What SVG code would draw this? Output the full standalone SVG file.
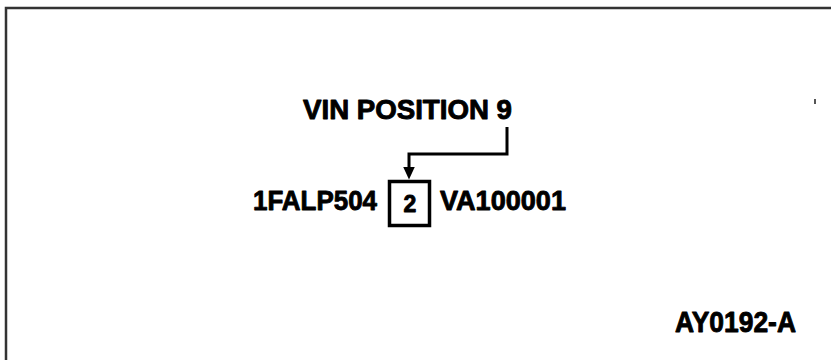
<svg xmlns="http://www.w3.org/2000/svg" width="831" height="360" viewBox="0 0 831 360">
<defs>
<style>
.t{font-family:"Liberation Sans",Arial,sans-serif;font-weight:bold;fill:#000;stroke:#000;stroke-width:0.9;stroke-linejoin:round}
.ln{fill:none;stroke:#000;stroke-width:3}
</style>
<marker id="ah" markerWidth="14" markerHeight="12" refX="0.5" refY="6" orient="auto" markerUnits="userSpaceOnUse">
<path d="M0,0 L13,6 L0,12 Z" fill="#000"/>
</marker>
</defs>
<rect width="831" height="360" fill="#fff"/>
<path d="M6,362 V8 H833" fill="none" stroke="#333" stroke-width="2.5"/>
<rect x="814" y="99" width="2" height="5" fill="#555"/>
<g id="label-vin">
<text class="t" x="303" y="119" font-size="27" textLength="209" lengthAdjust="spacingAndGlyphs">VIN POSITION 9</text>
</g>
<g id="vin-prefix">
<text class="t" x="253" y="210" font-size="28" textLength="124" lengthAdjust="spacingAndGlyphs">1FALP504</text>
</g>
<g id="vin-pos9">
<rect x="389.5" y="181.5" width="40" height="44" fill="none" stroke="#000" stroke-width="3.5"/>
<text class="t" x="410" y="212" font-size="23" text-anchor="middle">2</text>
</g>
<g id="vin-suffix">
<text class="t" x="440" y="210" font-size="28" textLength="126" lengthAdjust="spacingAndGlyphs">VA100001</text>
</g>
<g id="figure-id">
<text class="t" x="675" y="332" font-size="29" textLength="121" lengthAdjust="spacingAndGlyphs">AY0192-A</text>
</g>
<g id="connectors">
<path class="ln" d="M507,127 V154 H409 V167" marker-end="url(#ah)"/>
</g>
</svg>
